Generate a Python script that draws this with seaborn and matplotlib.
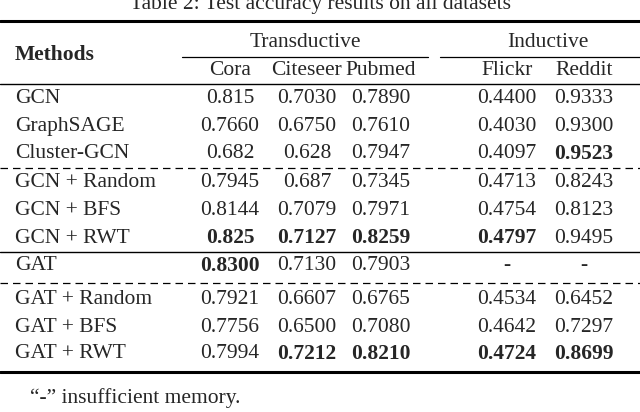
import matplotlib
matplotlib.use("Agg")
import matplotlib.pyplot as plt
import seaborn as sns

sns.set_theme(style="white")
plt.rcParams['font.family'] = ['Liberation Serif', 'DejaVu Serif']

# table contents
methods = ["GCN", "GraphSAGE", "Cluster-GCN", "GCN + Random", "GCN + BFS", "GCN + RWT",
           "GAT", "GAT + Random", "GAT + BFS", "GAT + RWT"]
datasets = ["Cora", "Citeseer", "Pubmed", "Flickr", "Reddit"]
groups = ["Transductive", "Inductive"]
cora = ["0.815", "0.7660", "0.682", "0.7945", "0.8144", "0.825", "0.8300", "0.7921", "0.7756", "0.7994"]
citeseer = ["0.7030", "0.6750", "0.628", "0.687", "0.7079", "0.7127", "0.7130", "0.6607", "0.6500", "0.7212"]
pubmed = ["0.7890", "0.7610", "0.7947", "0.7345", "0.7971", "0.8259", "0.7903", "0.6765", "0.7080", "0.8210"]
flickr = ["0.4400", "0.4030", "0.4097", "0.4713", "0.4754", "0.4797", "-", "0.4534", "0.4642", "0.4724"]
reddit = ["0.9333", "0.9300", "0.9523", "0.8243", "0.8123", "0.9495", "-", "0.6452", "0.7297", "0.8699"]
bold_cells = [(2, 4), (5, 0), (5, 1), (5, 2), (5, 3), (6, 0), (9, 1), (9, 2), (9, 3), (9, 4)]
title = "Table 2: Test accuracy results on all datasets"
footnote = "\u201c-\u201d insufficient memory."

columns = [cora, citeseer, pubmed, flickr, reddit]
col_x = [230, 307, 381, 507, 584]
row_y = [98, 126, 154, 182, 210, 238, 266, 299, 327, 354]
fs = 15.5

fig = plt.figure(figsize=(6.4, 4.12), dpi=100)
ax = fig.add_axes([0, 0, 1, 1])
ax.set_xlim(0, 640)
ax.set_ylim(412, 0)
ax.axis("off")

ax.text(320, 4, title, ha="center", va="center", fontsize=fs)
ax.plot([0, 640], [21, 21], color="black", lw=2.2)
ax.text(15, 55, "Methods", ha="left", va="center", fontsize=fs, fontweight="bold")
ax.text(305, 42, groups[0], ha="center", va="center", fontsize=fs)
ax.text(548, 42, groups[1], ha="center", va="center", fontsize=fs)
ax.plot([182, 428], [57, 57], color="black", lw=0.9)
ax.plot([440, 640], [57, 57], color="black", lw=0.9)
for x, d in zip(col_x, datasets):
    ax.text(x, 70, d, ha="center", va="center", fontsize=fs)
ax.plot([0, 640], [84, 84], color="black", lw=1.0)

for i, (m, y) in enumerate(zip(methods, row_y)):
    ax.text(15, y, m, ha="left", va="center", fontsize=fs)
    for j, (col, x) in enumerate(zip(columns, col_x)):
        w = "bold" if (i, j) in bold_cells else "normal"
        ax.text(x, y, col[i], ha="center", va="center", fontsize=fs, fontweight=w)

ax.plot([0, 640], [168, 168], color="black", lw=0.9, ls=(0, (6, 4)))
ax.plot([0, 640], [252, 252], color="black", lw=1.0)
ax.plot([0, 640], [283, 283], color="black", lw=0.9, ls=(0, (6, 4)))
ax.plot([0, 640], [372, 372], color="black", lw=2.2)
ax.text(30, 398, footnote, ha="left", va="center", fontsize=fs)

fig.savefig("out.png", dpi=100)
